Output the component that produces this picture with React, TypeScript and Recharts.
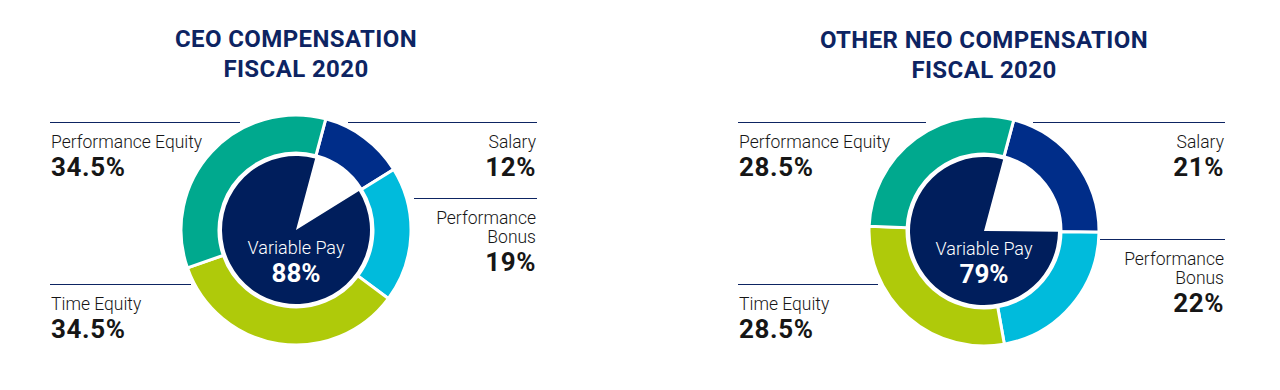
import React from 'react';
import { PieChart, Pie, Cell } from 'recharts';

// ---- data ----
const categories = ['Salary', 'Performance Bonus', 'Time Equity', 'Performance Equity'];
const categoryLabelLines = [['Salary'], ['Performance', 'Bonus'], ['Time Equity'], ['Performance Equity']];
const ceoValues = [12, 19, 34.5, 34.5];
const neoValues = [21, 22, 28.5, 28.5];
const ceoVariablePay = 88;
const neoVariablePay = 79;
const ceoTitle = ['CEO COMPENSATION', 'FISCAL 2020'];
const neoTitle = ['OTHER NEO COMPENSATION', 'FISCAL 2020'];
const centerLabel = 'Variable Pay';

// ---- style ----
const ringColors = ['#002d89', '#00bbdc', '#afca0a', '#00a98e'];
const diskColors = ['#ffffff', '#001e5c'];
const NAVY = '#0d2462';
const TEXT = '#161616';
const FONT = 'Roboto, "Noto Sans", sans-serif';

type Layout = { side: 'left' | 'right'; dy: number; innerDx: number };
const ceoLayout: Layout[] = [
  { side: 'right', dy: -108, innerDx: 52 },
  { side: 'right', dy: -32, innerDx: 118 },
  { side: 'left', dy: 54, innerDx: -105 },
  { side: 'left', dy: -108, innerDx: -56 },
];
const neoLayout: Layout[] = [
  { side: 'right', dy: -109, innerDx: 49 },
  { side: 'right', dy: 8, innerDx: 116 },
  { side: 'left', dy: 53, innerDx: -106 },
  { side: 'left', dy: -109, innerDx: -58 },
];

const buildRing = (values: number[]) => categories.map((name, i) => ({ name, value: values[i] }));
const buildDisk = (variable: number) => [
  { name: 'Fixed', value: 100 - variable },
  { name: centerLabel, value: variable },
];

const makeRingLabel = (layout: Layout[], title: string[]) => (props: any) => {
  const { cx, cy, index, value } = props;
  const l = layout[index];
  const ly = Math.round(cy + l.dy) + 0.5;
  const outerX = l.side === 'right' ? cx + 241 : cx - 246;
  const innerX = cx + l.innerDx;
  const anchor = l.side === 'right' ? 'end' : 'start';
  const tx = l.side === 'right' ? outerX - 1 : outerX + 1;
  const lines = categoryLabelLines[index];
  return (
    <g>
      {index === 0 && (
        <text x={cx} textAnchor="middle" fill={NAVY} fontFamily={FONT} fontWeight={700} fontSize={24} letterSpacing={0.4}>
          <tspan x={cx} y={cy - 183}>{title[0]}</tspan>
          <tspan x={cx} y={cy - 153}>{title[1]}</tspan>
        </text>
      )}
      <line x1={Math.min(outerX, innerX)} x2={Math.max(outerX, innerX)} y1={ly} y2={ly} stroke={NAVY} strokeWidth={1} />
      {lines.map((t, k) => (
        <text key={k} x={tx} y={ly + 25 + 19 * k} textAnchor={anchor} fill={TEXT} fontFamily={FONT} fontWeight={300} fontSize={17.5}>
          {t}
        </text>
      ))}
      <text x={tx} y={ly + 25 + 19 * (lines.length - 1) + 28} textAnchor={anchor} fill={TEXT} fontFamily={FONT} fontWeight={700} fontSize={26} letterSpacing={0.6}>
        {`${value}%`}
      </text>
    </g>
  );
};

const diskLabel = (props: any) => {
  const { cx, cy, index, value } = props;
  if (index !== 1) return null;
  return (
    <g>
      <text x={cx} y={cy + 24} textAnchor="middle" fill="#ffffff" fontFamily={FONT} fontWeight={300} fontSize={18}>
        {centerLabel}
      </text>
      <text x={cx} y={cy + 52} textAnchor="middle" fill="#ffffff" fontFamily={FONT} fontWeight={700} fontSize={26}>
        {`${value}%`}
      </text>
    </g>
  );
};

const START = 75;
const END = -285;

export default function App() {
  const ceoRing = buildRing(ceoValues);
  const neoRing = buildRing(neoValues);
  const ceoDisk = buildDisk(ceoVariablePay);
  const neoDisk = buildDisk(neoVariablePay);
  return (
    <div style={{ position: 'absolute', left: 0, top: 0, width: 1280, height: 390, background: '#fff' }}>
      <PieChart width={1280} height={390} margin={{ top: 0, right: 0, bottom: 0, left: 0 }}>
        <Pie data={ceoRing} dataKey="value" nameKey="name" cx={296} cy={230} innerRadius={77} outerRadius={115}
          startAngle={START} endAngle={END} stroke="#ffffff" strokeWidth={3} isAnimationActive={false}
          label={makeRingLabel(ceoLayout, ceoTitle)} labelLine={false}>
          {ceoRing.map((d, i) => <Cell key={d.name} fill={ringColors[i]} />)}
        </Pie>
        <Pie data={ceoDisk} dataKey="value" nameKey="name" cx={296} cy={230} innerRadius={0} outerRadius={74}
          startAngle={START} endAngle={END} stroke="none" isAnimationActive={false}
          label={diskLabel} labelLine={false}>
          {ceoDisk.map((d, i) => <Cell key={d.name} fill={diskColors[i]} />)}
        </Pie>
        <Pie data={neoRing} dataKey="value" nameKey="name" cx={984} cy={231} innerRadius={77} outerRadius={115}
          startAngle={START} endAngle={END} stroke="#ffffff" strokeWidth={3} isAnimationActive={false}
          label={makeRingLabel(neoLayout, neoTitle)} labelLine={false}>
          {neoRing.map((d, i) => <Cell key={d.name} fill={ringColors[i]} />)}
        </Pie>
        <Pie data={neoDisk} dataKey="value" nameKey="name" cx={984} cy={231} innerRadius={0} outerRadius={74}
          startAngle={START} endAngle={END} stroke="none" isAnimationActive={false}
          label={diskLabel} labelLine={false}>
          {neoDisk.map((d, i) => <Cell key={d.name} fill={diskColors[i]} />)}
        </Pie>
      </PieChart>
    </div>
  );
}
